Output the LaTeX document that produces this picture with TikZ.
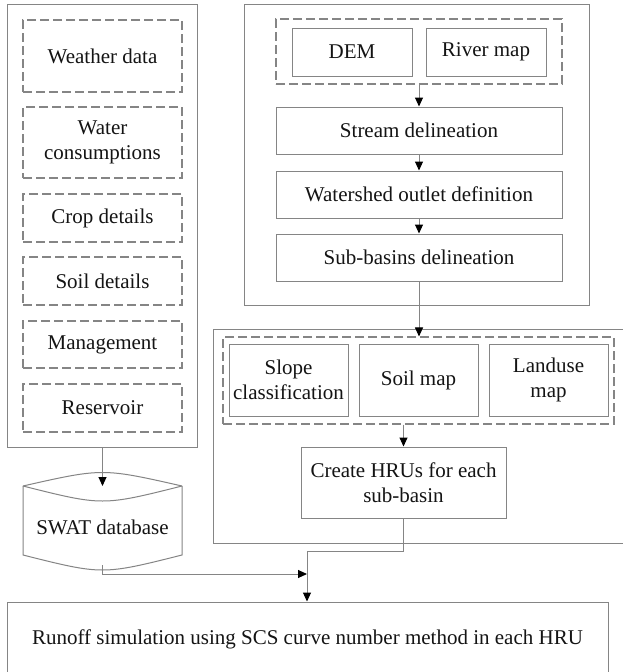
\documentclass[tikz,border=0pt]{standalone}
\usepackage{fontspec}
\setmainfont{Liberation Serif}
\usetikzlibrary{arrows.meta}
\definecolor{edge}{HTML}{858585}
\definecolor{ink}{HTML}{141414}
\begin{document}
\begin{tikzpicture}[x=1pt,y=-1pt,
  every node/.style={font=\fontsize{21}{25}\selectfont, text=ink, inner sep=0pt, align=center},
  box/.style={draw=edge, line width=1pt, rectangle},
  dbox/.style={draw=edge, line width=1.1pt, rectangle, dash pattern=on 9pt off 4pt},
  frame/.style={draw=edge, line width=1pt},
  conn/.style={draw=edge, line width=1pt, -{Triangle[length=9pt,width=8pt,color=black]}},
  plain/.style={draw=edge, line width=1pt}]
\useasboundingbox (0,0) rectangle (623,672);
\fill[white] (0,0) rectangle (623,672);

% left column
\node[box, minimum width=190, minimum height=443] (left) at (102,225.5) {};
\node[dbox, minimum width=159, minimum height=72] (weather) at (102.5,56) {Weather data};
\node[dbox, minimum width=159, minimum height=71] (water) at (102.5,142.5) {Water\\consumptions};
\node[dbox, minimum width=159, minimum height=48] (crop) at (102.5,218) {Crop details};
\node[dbox, minimum width=159, minimum height=48] (soild) at (102.5,281) {Soil details};
\node[dbox, minimum width=159, minimum height=47] (mgmt) at (102.5,344.5) {Management};
\node[dbox, minimum width=159, minimum height=48] (res) at (102.5,408) {Reservoir};

% SWAT database (stored data shape)
\draw[plain] (23,486) .. controls (102.5,468) .. (182,486);
\draw[plain] (23,486) .. controls (102.5,506) .. (182,486);
\draw[plain] (23,486) -- (23,555) .. controls (102.5,575) .. (182,555) -- (182,486);
\node (swat) at (102.5,527) {SWAT database};
\coordinate (swattop) at (102.5,486);
\coordinate (swatbot) at (102.5,565);

% top right block
\node[box, minimum width=345, minimum height=301] (topr) at (416.5,154.5) {};
\node[dbox, minimum width=286, minimum height=65] (inputs) at (419,51.5) {};
\node[box, minimum width=120, minimum height=48] (dem) at (352,52) {DEM};
\node[box, minimum width=120, minimum height=48] (river) at (486,52) {River map};
\node[box, minimum width=286, minimum height=47] (stream) at (419,130.5) {Stream delineation};
\node[box, minimum width=286, minimum height=47] (outlet) at (419,194.5) {Watershed outlet definition};
\node[box, minimum width=286, minimum height=47] (subb) at (419,257.5) {Sub-basins delineation};

% lower right block (open to the right edge)
\draw[frame] (626,329) -| (213,543) -- (626,543);
\node[dbox, minimum width=391, minimum height=87] (maps) at (418.5,380.5) {};
\node[box, minimum width=119, minimum height=72] (slope) at (288.5,380) {Slope\\classification};
\node[box, minimum width=119, minimum height=72] (soilmap) at (418.5,380) {Soil map};
\node[box, minimum width=119, minimum height=72] (landuse) at (548.5,380) {Landuse\\map};
\node[box, minimum width=205, minimum height=71] (hru) at (403.5,482.5) {Create HRUs for each\\sub-basin};

% runoff box (runs past the bottom edge)
\node[box, minimum width=601, minimum height=80] (runoff) at (307.5,642) {};
\node at (307.5,639) {Runoff simulation using SCS curve number method in each HRU};

% connectors
\draw[conn] (inputs.south) -- (stream.north);
\draw[conn] (stream.south) -- (outlet.north);
\draw[conn] (outlet.south) -- (subb.north);
\draw[conn] (subb.south) -- (maps.north -| subb.south);
\draw[conn] (maps.south -| hru.north) -- (hru.north);
\draw[conn] (left.south -| swattop) -- (swattop);
\coordinate (join) at (307,574);
\draw[conn] (swatbot) -- (102.5,574) -- (join);
\draw[conn] (hru.south) -- (403.5,551) -| (runoff.north -| join);
\end{tikzpicture}
\end{document}
